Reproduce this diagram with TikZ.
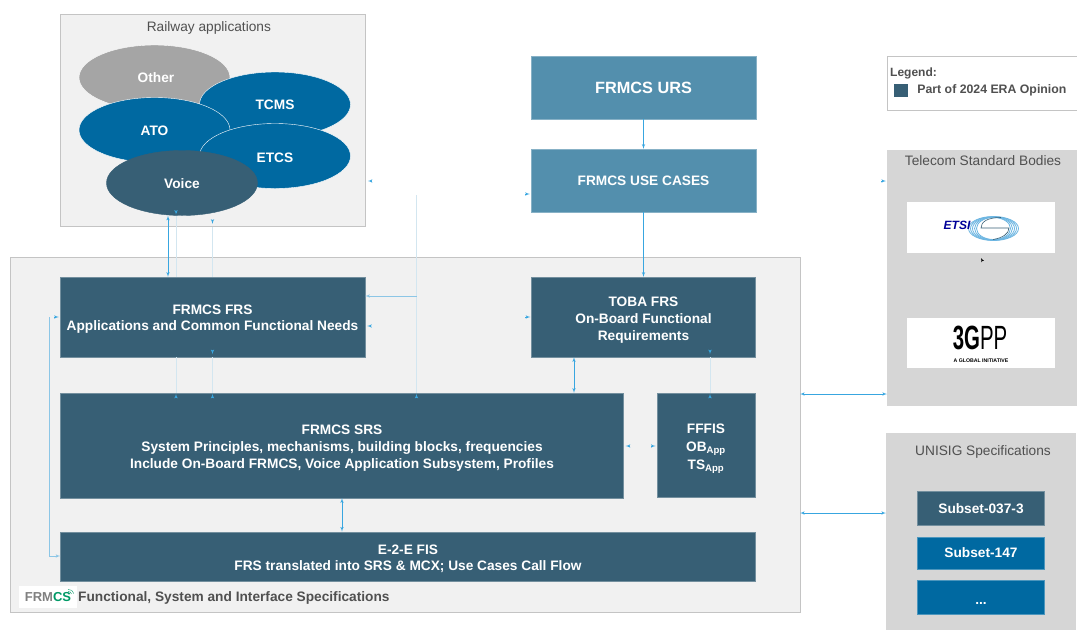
\documentclass[tikz,border=0pt]{standalone}
\usepackage{fontspec}
\setmainfont{Liberation Sans}
\usetikzlibrary{arrows,positioning,shapes.geometric}
\definecolor{opinion}{HTML}{375F75}
\definecolor{urs}{HTML}{538FAD}
\definecolor{appblue}{HTML}{0069A1}
\definecolor{otherg}{HTML}{A5A5A5}
\definecolor{panel}{HTML}{F1F1F1}
\definecolor{panelg}{HTML}{D6D6D6}
\definecolor{edgeg}{HTML}{C4C4C4}
\definecolor{wire}{HTML}{38A6E0}
\definecolor{softwire}{HTML}{8CC6E6}
\definecolor{faintwire}{HTML}{D3E6F0}
\definecolor{logoblue}{HTML}{6DB6E2}
\definecolor{txtg}{HTML}{505050}
\newcommand{\lowered}[1]{\rule{0pt}{#1pt}}
\tikzset{
    sized/.style 2 args={
           minimum width=#1pt,
           minimum height=#2pt,
           },
    block/.style={
           rectangle,
           fill=opinion,
           draw=opinion!70!white, thin,
           text=white,
           font=\bfseries\fontsize{13.7}{16.8}\selectfont,
           align=center,
           inner sep=0pt,
           },
    upper/.style={
           block,
           fill=urs,
           draw=urs!70!white,
           },
    subsetbox/.style={
           block,
           fill=appblue,
           draw=appblue!70!white,
           },
    panelbox/.style={
           rectangle,
           fill=panel,
           draw=edgeg, thick,
           inner sep=0pt,
           },
    greybox/.style={
           rectangle,
           fill=panelg,
           inner sep=0pt,
           },
    logobox/.style={
           rectangle,
           fill=white,
           inner sep=0pt,
           },
    app/.style={
           ellipse,
           fill=appblue,
           draw=white, thin,
           text=white,
           font=\bfseries\fontsize{13.7}{16}\selectfont,
           minimum width=151pt,
           minimum height=65pt,
           inner sep=0pt,
           },
    title/.style={
           text=txtg,
           font=\fontsize{13.7}{16}\selectfont,
           inner sep=0pt,
           },
    tiny/.style={
           inner sep=0pt,
           },
    flow/.style={
           -{latex'},
           draw=wire,
           semithick,
           },
    both/.style={
           flow,
           {latex'}-{latex'},
           },
    stub/.style={
           flow,
           shorten >=1pt,
           },
    faint/.style={
           draw=faintwire,
           thin,
           },
}

\begin{document}
\begin{tikzpicture}[x=1pt,y=-1pt]
  \useasboundingbox (0,0) rectangle (1077,630);

  % railway applications
  \node[panelbox,sized={305}{212},anchor=north west] (RAIL) at (60,14) {};
  \node[title,below=7pt of RAIL.north,xshift=-4pt] (RAILT) {Railway applications};
  \node[app,fill=otherg] (OTHER) at (154.5,77.5) {};
  \node[text=white,font=\bfseries\fontsize{13.7}{16}\selectfont] (OTHERT) at (156,77.5) {Other};
  \node[app] (TCMS) at (275,104.5) {TCMS};
  \node[app] (ATO) at (154.5,130) {\lowered{11}ATO};
  \node[app] (ETCS) at (275,156) {\lowered{13}ETCS};
  \node[app,fill=opinion,draw=opinion] (VOICE) at (182,183) {\lowered{11}Voice};

  % specification panel
  \node[panelbox,sized={790}{355},anchor=north west] (SPEC) at (10,257) {};
  \node[upper,sized={225}{63},font=\bfseries\fontsize{16.3}{19}\selectfont] (URS) at (643.5,87.5) {FRMCS URS};
  \node[upper,sized={225}{63}] (UC) at (643.5,180.5) {FRMCS USE CASES};
  \node[block,sized={305}{80}] (FRS) at (212.5,317)
  {\lowered{14}FRMCS FRS\\Applications and Common Functional Needs};
  \node[block,sized={224}{80}] (TOBA) at (643.5,317)
  {\lowered{16}TOBA FRS\\On-Board Functional\\Requirements};
  \node[block,sized={563}{105}] (SRS) at (342,445.5)
  {\lowered{15}FRMCS SRS\\System Principles, mechanisms, building blocks, frequencies\\Include On-Board FRMCS, Voice Application Subsystem, Profiles};
  \node[block,sized={98.5}{104},font=\bfseries\fontsize{13.7}{18}\selectfont] (FFFIS) at (706,445)
  {\lowered{17}FFFIS\\OB\textsubscript{App}\\TS\textsubscript{App}};
  \node[block,sized={695}{49.5}] (E2E) at (408,556.5)
  {\lowered{14}E-2-E FIS\\FRS translated into SRS \& MCX; Use Cases Call Flow};

  \node[logobox,sized={58}{22}] (FRMCSLOGO) at (48,597) {};
  \node[tiny,font=\bfseries\fontsize{13}{15}\selectfont] (LOGOT) at (48,597)
  {\textcolor{gray}{FRM}\textcolor{teal!80!green}{CS}};
  \draw[teal!80!green,thin] (68,591.5) arc (-100:-10:3) (68,589.5) arc (-100:-10:5);
  \node[title,font=\bfseries\fontsize{13.7}{16}\selectfont,anchor=west] (SPECT) at (78,597.5)
  {Functional, System and Interface Specifications};

  % legend
  \node[rectangle,draw=edgeg,thick,fill=white,sized={195}{54},anchor=north west] (LEG) at (887,56) {};
  \node[title,font=\bfseries\fontsize{12}{14}\selectfont,anchor=west] (LEGT) at (890,73) {Legend:};
  \node[rectangle,fill=opinion,sized={14}{13},inner sep=0pt] (SWATCH) at (901,90.5) {};
  \node[title,font=\bfseries\fontsize{12.3}{14}\selectfont,right=9pt of SWATCH] (LEGP) {Part of 2024 ERA Opinion};

  % telecom standard bodies
  \node[greybox,sized={195}{256},anchor=north west] (TEL) at (887,150) {};
  \node[title] (TELT) at (983,161) {Telecom Standard Bodies};
  \node[logobox,sized={148}{51}] (ETSI) at (981,227.5) {};
  \foreach \r/\h in {25/12,23/11.8,21/11.5,19/11.2,17/11}{
    \draw[logoblue,line width=.8pt] (993.5,228.5) ellipse ({\r pt} and {\h pt});
  }
  \fill[white] (993.5,228.5) ellipse (15pt and 10pt);
  \draw[opinion,semithick] (1001,217.5) .. controls (987,217.5) and (981,222) .. (981,228) -- (1009,228) .. controls (1009,234) and (1002,238) .. (993,239.5);
  \node[tiny,text=blue!60!black,font=\bfseries\itshape\fontsize{12}{14}\selectfont] (ETSIT) at (957,225) {ETSI};
  \node[logobox,sized={148}{50}] (GPP) at (981,342.5) {};
  \node[tiny,xscale=.85,yscale=1.4,transform shape,font=\fontsize{24}{26}\selectfont] (GPPT) at (980,338) {\textbf{3G}PP};
  \node[tiny,font=\bfseries\fontsize{5.2}{6}\selectfont] (GPPS) at (981,361) {A GLOBAL INITIATIVE};

  % unisig
  \node[greybox,sized={190}{197},anchor=north west] (UNI) at (886,433) {};
  \node[title] (UNIT) at (983,452) {UNISIG Specifications};
  \node[block,sized={127}{34}] (S037) at (981,508.5) {Subset-037-3};
  \node[subsetbox,sized={127}{32}] (S147) at (981,553) {Subset-147};
  \node[subsetbox,sized={127}{34}] (SDOTS) at (981,597) {\lowered{14}...};

  % free ends of the short links
  \coordinate (RAILE) at (371,181);
  \coordinate (UCW) at (525,194);
  \coordinate (TELW) at (881,181);
  \coordinate (FRSE) at (371,326);
  \coordinate (TOBAW) at (525,317);
  \coordinate (TAP) at (416.5,195);
  \coordinate (JOIN) at (416.5,296);
  \coordinate (LEFTS) at (54,317);
  \coordinate (LEFTT) at (49,317);
  \coordinate (LEFTB) at (49,556);
  \coordinate (TELM) at (800,394);
  \coordinate (UNIM) at (800,513);
  \coordinate (GAPL) at (630,446);
  \coordinate (GAPR) at (651,446);
  \coordinate (TICK) at (981.5,259);
  \coordinate (A) at (168,0);
  \coordinate (B) at (176,0);
  \coordinate (C) at (212.5,0);
  \coordinate (D) at (416.5,0);
  \coordinate (E) at (574,0);
  \coordinate (F) at (710,0);
  \coordinate (G) at (342,0);

  \draw[flow] (URS) -- (UC);
  \draw[flow] (UC) -- (TOBA);
  \draw[both] (A |- VOICE.south) -- (A |- FRS.north);
  \draw[faint] (B |- FRS.north) -- (B |- VOICE.south);
  \draw[stub] ([yshift=4pt]B |- VOICE.south) -- (B |- VOICE.south);
  \draw[faint] (C |- FRS.north) -- (C |- RAIL.south);
  \draw[stub] ([yshift=6pt]C |- RAIL.south) -- ([yshift=2pt]C |- RAIL.south);
  \draw[faint] (B |- FRS.south) -- (B |- SRS.north);
  \draw[stub] ([yshift=-4pt]B |- SRS.north) -- (B |- SRS.north);
  \draw[faint] (C |- FRS.south) -- (C |- SRS.north);
  \draw[stub] ([yshift=6pt]C |- FRS.south) -- ([yshift=2pt]C |- FRS.south);
  \draw[stub] ([yshift=-4pt]C |- SRS.north) -- (C |- SRS.north);
  \draw[faint] (TAP) -- (D |- SRS.north);
  \draw[stub] ([yshift=-4pt]D |- SRS.north) -- (D |- SRS.north);
  \draw[flow,draw=softwire] (JOIN) -- (FRS.east |- JOIN);
  \draw[stub] (RAILE) -- ([xshift=1pt]RAIL.east |- RAILE);
  \draw[stub] (FRSE) -- ([xshift=1pt]FRS.east |- FRSE);
  \draw[stub] (UCW) -- (UC.west |- UCW);
  \draw[stub] (TOBAW) -- (TOBA.west |- TOBAW);
  \draw[stub] (TELW) -- (TEL.west |- TELW);
  \draw[stub] (LEFTS) -- (FRS.west |- LEFTS);
  \draw[flow,draw=softwire] (LEFTT) -- (LEFTB) -- (E2E.west |- LEFTB);
  \draw[both] (E |- TOBA.south) -- (E |- SRS.north);
  \draw[faint] (F |- TOBA.south) -- (F |- FFFIS.north);
  \draw[stub] ([yshift=6pt]F |- TOBA.south) -- ([yshift=2pt]F |- TOBA.south);
  \draw[stub] ([yshift=-4pt]F |- FFFIS.north) -- (F |- FFFIS.north);
  \draw[stub] (GAPL) -- ([xshift=1pt]SRS.east |- GAPL);
  \draw[stub] (GAPR) -- (FFFIS.west |- GAPR);
  \draw[both] (G |- SRS.south) -- (G |- E2E.north);
  \draw[both] (TELM) -- (TEL.west |- TELM);
  \draw[both] (UNIM) -- (UNI.west |- UNIM);
  \draw[-{latex'},draw=black,thin] (TICK) -- ([yshift=1pt]ETSI.south |- TICK);
\end{tikzpicture}
\end{document}
